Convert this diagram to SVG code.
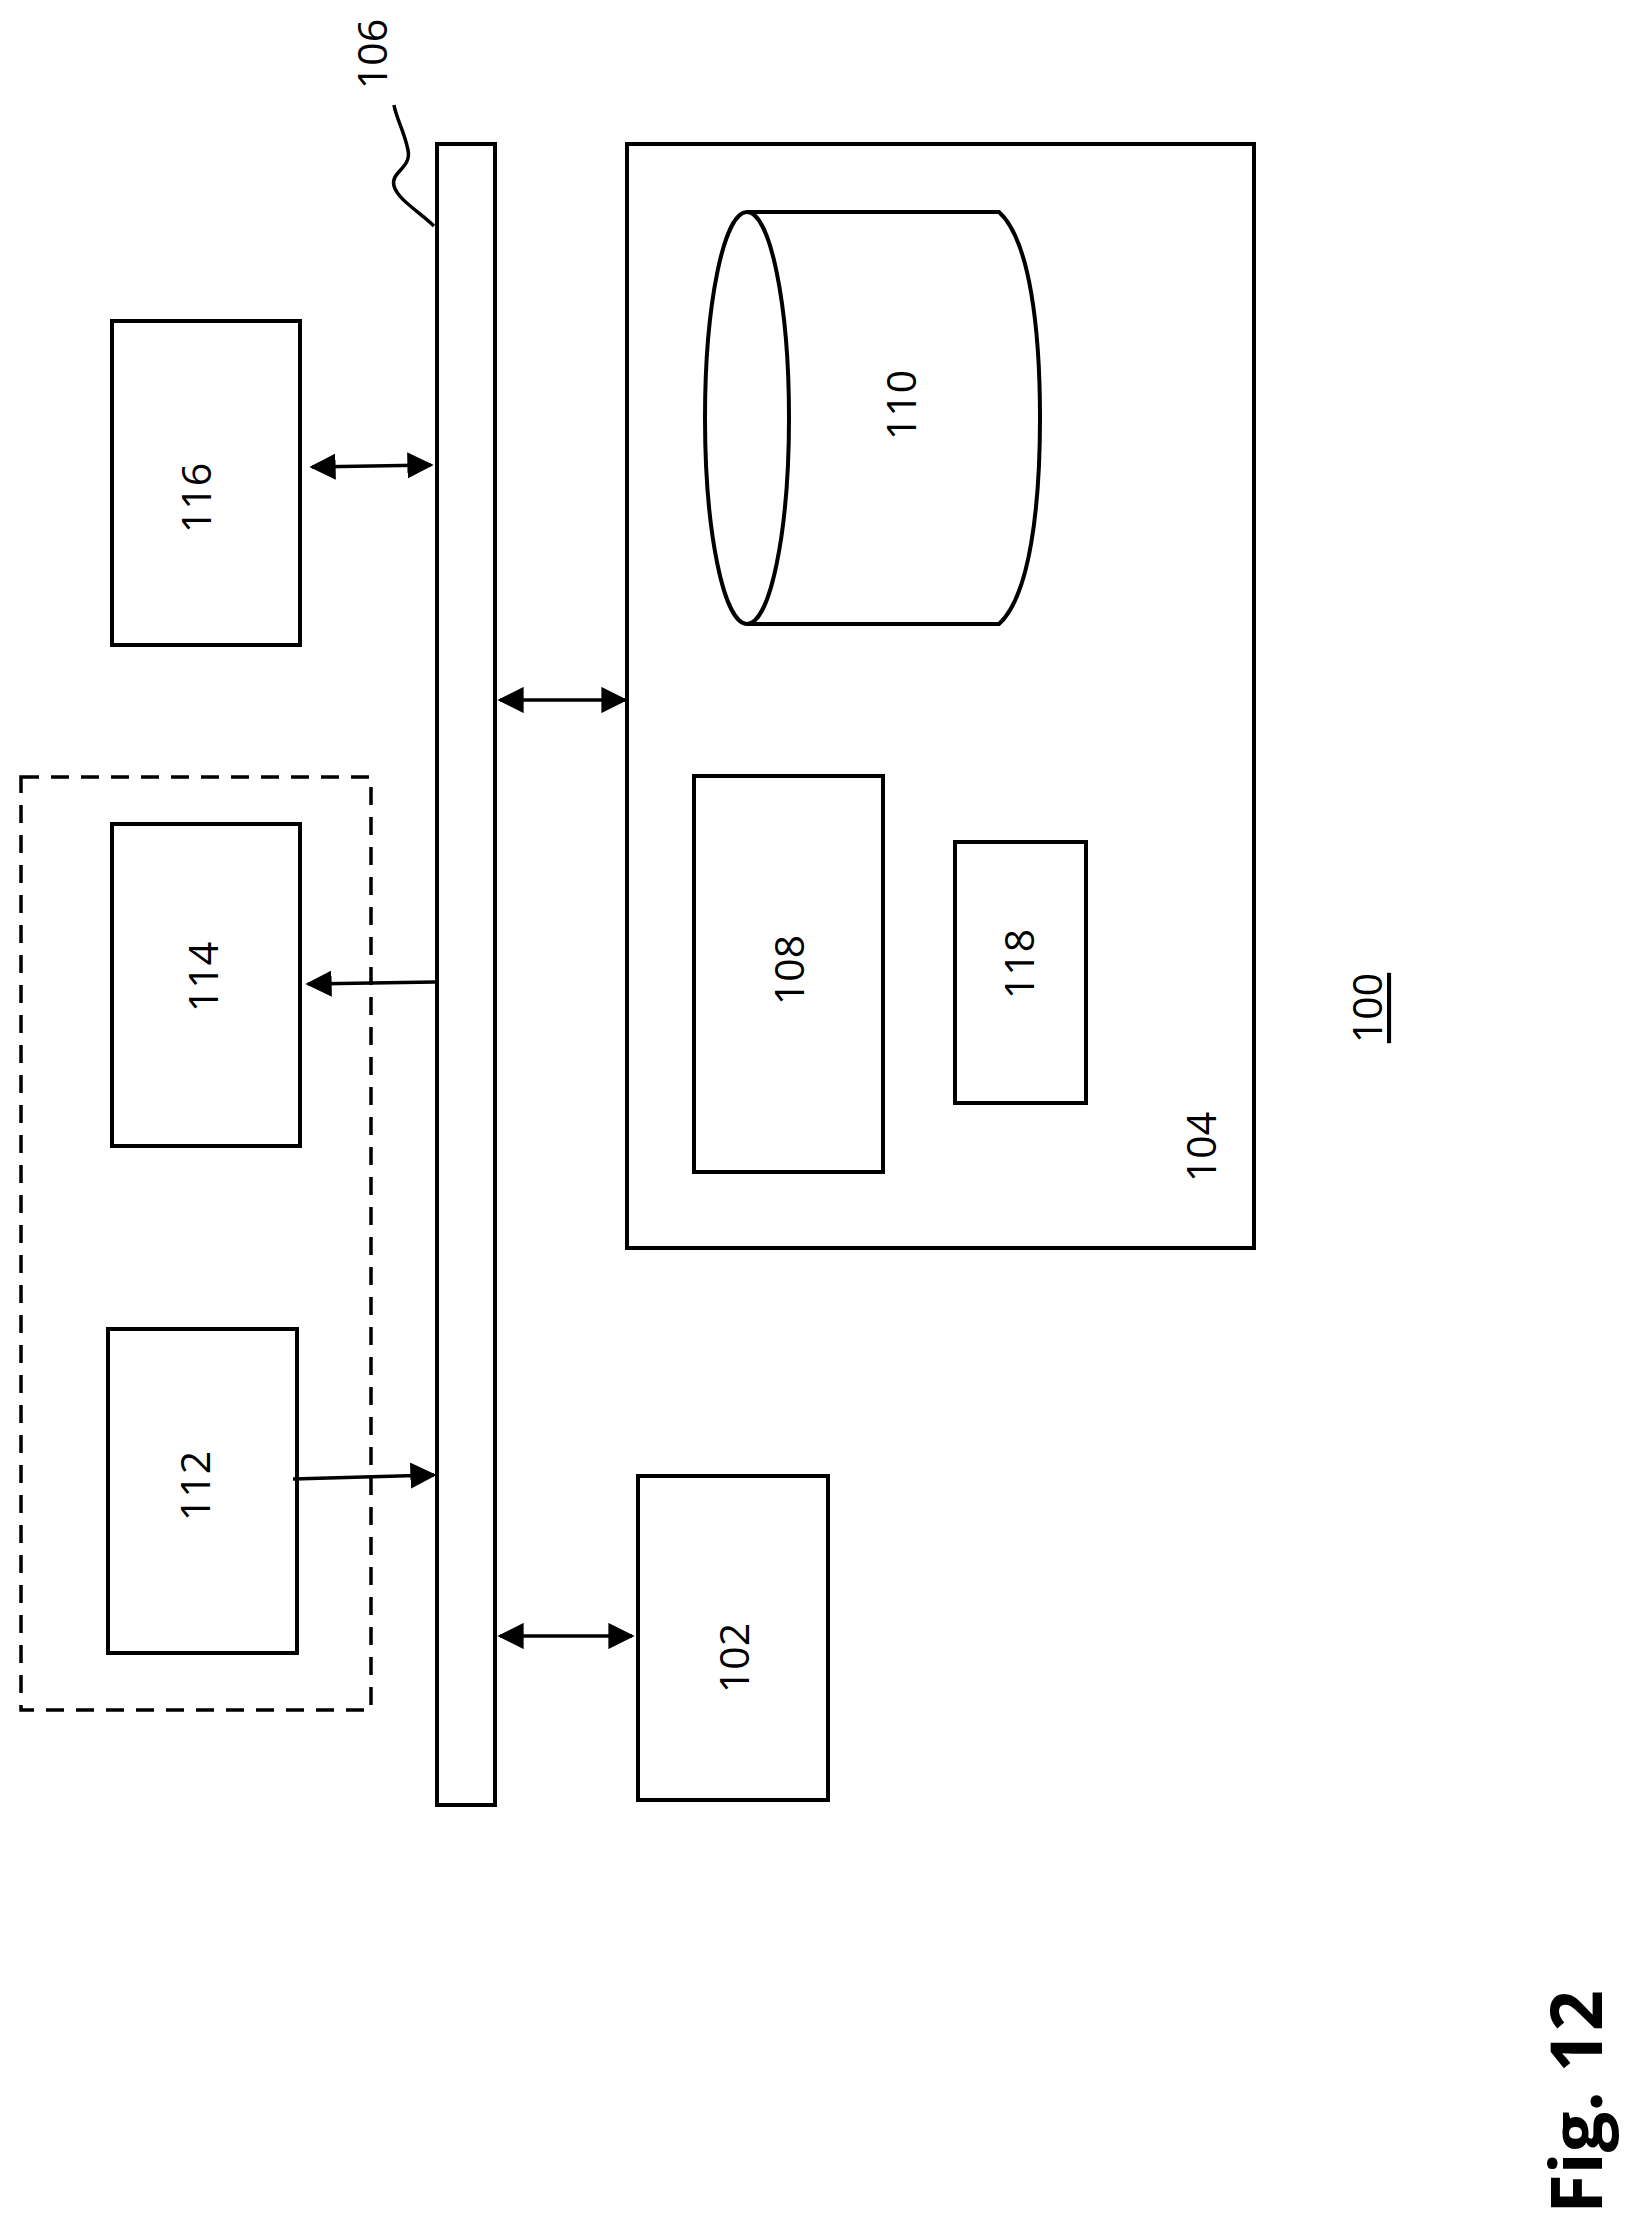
<svg xmlns="http://www.w3.org/2000/svg" width="1642" height="2218" viewBox="0 0 1642 2218">
<style>
.b{fill:#fff;stroke:#000;stroke-width:4}
.t{font-family:"Open Sans","DejaVu Sans",sans-serif;font-size:41px;text-anchor:middle;dominant-baseline:central}
.c{stroke:#000;stroke-width:3.5;fill:none}
</style>
<defs>
<marker id="ah" viewBox="0 0 10 10" refX="9" refY="5" markerWidth="7.5" markerHeight="7.5" markerUnits="strokeWidth" orient="auto-start-reverse"><path d="M0,0L10,5L0,10z" fill="#000"/></marker>
</defs>
<rect width="1642" height="2218" fill="#fff"/>
<g id="dashed"><rect x="21" y="777" width="350" height="933" fill="none" stroke="#000" stroke-width="3.5" stroke-dasharray="18,12"/></g>
<g id="n106"><rect class="b" x="437" y="144" width="58" height="1661"/><path class="c" d="M434,226C420,212 398,200 394,186C390,172 412,168 408,150C404,130 396,118 394,105" stroke-width="2.5"/><text class="t" transform="translate(371,54) rotate(-90)">106</text></g>
<g id="n116"><rect class="b" x="112" y="321" width="188" height="324"/><text class="t" transform="translate(195,498) rotate(-90)">116</text></g>
<g id="n114"><rect class="b" x="112" y="824" width="188" height="322"/><text class="t" transform="translate(202,977) rotate(-90)">114</text></g>
<g id="n112"><rect class="b" x="108" y="1329" width="189" height="324"/><text class="t" transform="translate(194,1486) rotate(-90)">112</text></g>
<g id="n102"><rect class="b" x="638" y="1476" width="190" height="324"/><text class="t" transform="translate(733,1658) rotate(-90)">102</text></g>
<g id="n104"><rect class="b" x="627" y="144" width="627" height="1104"/><text class="t" transform="translate(1200,1147) rotate(-90)">104</text></g>
<g id="n108"><rect class="b" x="694" y="776" width="189" height="396"/><text class="t" transform="translate(788,970) rotate(-90)">108</text></g>
<g id="n118"><rect class="b" x="955" y="842" width="131" height="261"/><text class="t" transform="translate(1018,964) rotate(-90)">118</text></g>
<g id="n110"><path class="b" d="M747,212L999,212C1030,240 1040,330 1040,418C1040,506 1030,596 999,624L747,624"/><ellipse class="b" cx="747" cy="418" rx="42" ry="206"/><text class="t" transform="translate(900,405) rotate(-90)">110</text></g>
<g id="n100"><text class="t" transform="translate(1366,1008) rotate(-90)" text-decoration="underline">100</text></g>
<g id="fig"><text transform="translate(1602,2102) rotate(-90)" font-family="'Open Sans','DejaVu Sans',sans-serif" font-weight="bold" font-size="72" text-anchor="middle">Fig. 12</text></g>
<g id="connectors">
<line class="c" x1="312" y1="467" x2="431" y2="465" marker-start="url(#ah)" marker-end="url(#ah)"/>
<line class="c" x1="500" y1="700" x2="625" y2="700" marker-start="url(#ah)" marker-end="url(#ah)"/>
<line class="c" x1="435" y1="982" x2="308" y2="984" marker-end="url(#ah)"/>
<line class="c" x1="293" y1="1479" x2="434" y2="1475" marker-end="url(#ah)"/>
<line class="c" x1="500" y1="1636" x2="632" y2="1636" marker-start="url(#ah)" marker-end="url(#ah)"/>
</g>
</svg>
